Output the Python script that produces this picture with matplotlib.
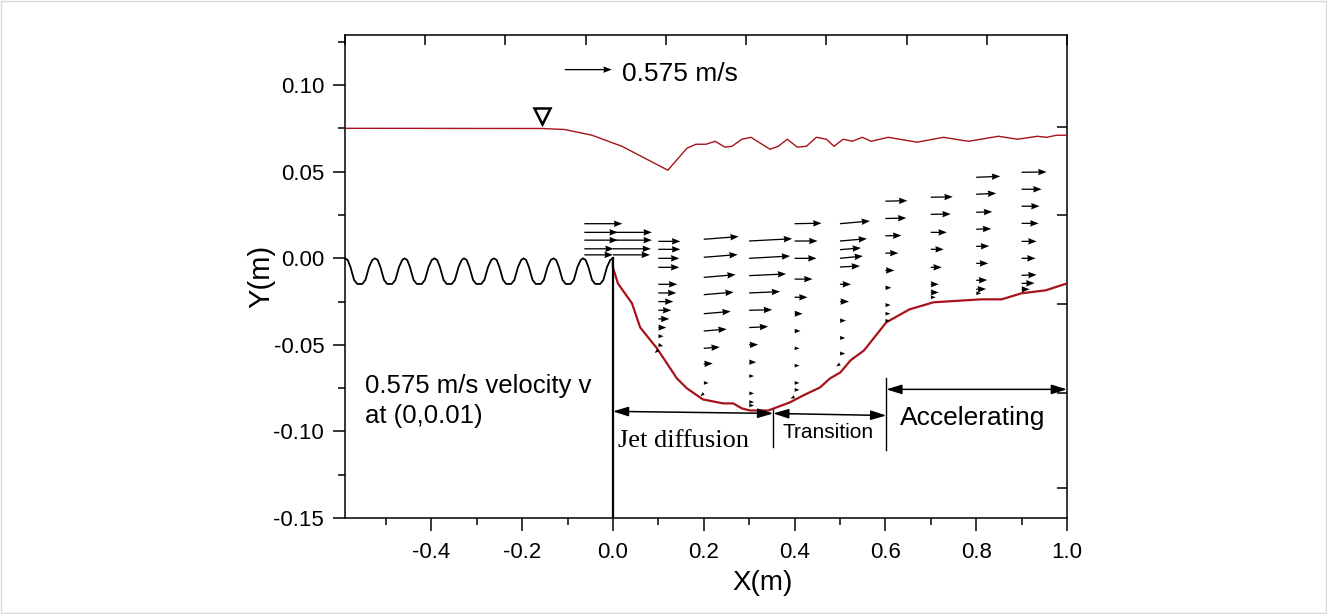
import numpy as np
import matplotlib
matplotlib.use("Agg")
import matplotlib.pyplot as plt
from matplotlib.ticker import MultipleLocator, FormatStrFormatter, FixedLocator
from matplotlib.patches import Rectangle

plt.rcParams['font.family'] = ['Liberation Sans', 'DejaVu Sans']
plt.rcParams['axes.unicode_minus'] = False

# ---------------- data ----------------
# free water surface
surf_x = [-0.590, -0.157, -0.106, -0.046, 0.020, 0.121, 0.163, 0.183, 0.205, 0.225, 0.247,
          0.262, 0.284, 0.304, 0.346, 0.364, 0.384, 0.406, 0.426, 0.448, 0.470, 0.487,
          0.507, 0.527, 0.549, 0.569, 0.606, 0.670, 0.728, 0.783, 0.849, 0.891, 0.935,
          0.955, 0.977, 1.000]
surf_y = [0.0751, 0.0750, 0.0744, 0.0711, 0.0647, 0.0509, 0.0636, 0.0659, 0.0659, 0.0676, 0.0642,
          0.0647, 0.0688, 0.0699, 0.0630, 0.0647, 0.0688, 0.0642, 0.0647, 0.0699, 0.0688, 0.0647,
          0.0688, 0.0676, 0.0699, 0.0676, 0.0699, 0.0671, 0.0699, 0.0676, 0.0705, 0.0688, 0.0705,
          0.0699, 0.0711, 0.0711]

# scour hole bed downstream of the dunes
bed_x = [0.000, 0.000, 0.011, 0.042, 0.060, 0.097, 0.141, 0.163, 0.198, 0.243, 0.265, 0.284,
         0.302, 0.342, 0.390, 0.419, 0.456, 0.478, 0.501, 0.523, 0.553, 0.602, 0.653, 0.706,
         0.811, 0.856, 0.900, 0.953, 1.000]
bed_y = [0.0000, -0.0052, -0.0145, -0.0260, -0.0399, -0.0520, -0.0694, -0.0751, -0.0815, -0.0838,
         -0.0838, -0.0867, -0.0879, -0.0879, -0.0832, -0.0792, -0.0746, -0.0694, -0.0659, -0.0590,
         -0.0532, -0.0370, -0.0295, -0.0254, -0.0237, -0.0237, -0.0202, -0.0185, -0.0145]

# wavy (dune) bed upstream
dune_x = [-0.590, -0.584, -0.578, -0.570, -0.563, -0.552, -0.545, -0.537, -0.530,
          -0.524, -0.518, -0.512, -0.504, -0.497, -0.486, -0.479, -0.471, -0.464,
          -0.459, -0.453, -0.447, -0.439, -0.432, -0.421, -0.414, -0.406, -0.399,
          -0.393, -0.387, -0.381, -0.373, -0.366, -0.355, -0.348, -0.340, -0.333,
          -0.328, -0.322, -0.316, -0.308, -0.301, -0.290, -0.283, -0.275, -0.268,
          -0.262, -0.256, -0.250, -0.242, -0.235, -0.224, -0.217, -0.209, -0.202,
          -0.197, -0.191, -0.185, -0.177, -0.170, -0.159, -0.152, -0.144, -0.137,
          -0.131, -0.125, -0.119, -0.111, -0.104, -0.093, -0.086, -0.078, -0.071,
          -0.066, -0.060, -0.054, -0.046, -0.039, -0.028, -0.021, -0.013, -0.006,
          0.000]
dune_y = [0.0, -0.001, -0.005, -0.0125, -0.0148, -0.0148, -0.0125, -0.005, -0.001,
          0.0, -0.001, -0.005, -0.0125, -0.0148, -0.0148, -0.0125, -0.005, -0.001,
          0.0, -0.001, -0.005, -0.0125, -0.0148, -0.0148, -0.0125, -0.005, -0.001,
          0.0, -0.001, -0.005, -0.0125, -0.0148, -0.0148, -0.0125, -0.005, -0.001,
          0.0, -0.001, -0.005, -0.0125, -0.0148, -0.0148, -0.0125, -0.005, -0.001,
          0.0, -0.001, -0.005, -0.0125, -0.0148, -0.0148, -0.0125, -0.005, -0.001,
          0.0, -0.001, -0.005, -0.0125, -0.0148, -0.0148, -0.0125, -0.005, -0.001,
          0.0, -0.001, -0.005, -0.0125, -0.0148, -0.0148, -0.0125, -0.005, -0.001,
          0.0, -0.001, -0.005, -0.0125, -0.0148, -0.0148, -0.0125, -0.005, -0.001,
          0.0]

# velocity vectors (m/s), one list per measuring column
col_x = [-0.063, 0.0, 0.1, 0.2, 0.3, 0.4, 0.5, 0.6, 0.7, 0.8, 0.9]
col_y = [
    [0.020, 0.015, 0.0105, 0.0055, 0.002],
    [0.015, 0.0105, 0.0055, 0.002],
    [0.0098, 0.0052, 0.0, -0.0052, -0.015, -0.020, -0.025, -0.030, -0.035, -0.040, -0.045, -0.050, -0.053],
    [0.011, 0.0006, -0.011, -0.021, -0.032, -0.042, -0.052, -0.061, -0.072, -0.078],
    [0.010, 0.0, -0.010, -0.020, -0.030, -0.040, -0.050, -0.060, -0.068, -0.078, -0.083, -0.085],
    [0.020, 0.010, 0.0, -0.012, -0.0225, -0.032, -0.042, -0.052, -0.062, -0.072, -0.076, -0.080],
    [0.020, 0.010, 0.005, 0.0, -0.005, -0.015, -0.025, -0.036, -0.046, -0.055, -0.061],
    [0.033, 0.023, 0.013, 0.003, -0.007, -0.017, -0.027, -0.032, -0.036],
    [0.0353, 0.0254, 0.015, 0.0052, -0.0052, -0.015, -0.0197, -0.0225],
    [0.0468, 0.037, 0.0266, 0.0168, 0.0069, -0.0029, -0.0127, -0.0179, -0.0202],
    [0.0497, 0.0399, 0.0301, 0.0202, 0.0098, 0.0, -0.0098, -0.0145, -0.0179],
]
col_u = [
    [0.465, 0.410, 0.410, 0.360, 0.350],
    [0.477, 0.477, 0.465, 0.453],
    [0.269, 0.269, 0.257, 0.257, 0.232, 0.220, 0.184, 0.159, 0.135, 0.098, 0.065, 0.060, -0.045],
    [0.428, 0.416, 0.391, 0.367, 0.330, 0.281, 0.196, 0.110, 0.060, -0.040],
    [0.526, 0.502, 0.453, 0.379, 0.281, 0.232, 0.110, 0.086, 0.060, 0.060, 0.060, 0.060],
    [0.330, 0.281, 0.269, 0.220, 0.159, 0.098, 0.073, 0.060, 0.060, 0.060, 0.060, -0.050],
    [0.367, 0.330, 0.257, 0.281, 0.245, 0.135, 0.110, 0.073, 0.065, 0.065, -0.045],
    [0.269, 0.257, 0.196, 0.159, 0.110, 0.073, 0.065, 0.060, 0.055],
    [0.269, 0.245, 0.196, 0.159, 0.135, 0.098, 0.098, 0.061],
    [0.294, 0.245, 0.196, 0.184, 0.159, 0.147, 0.135, 0.122, 0.061],
    [0.306, 0.245, 0.220, 0.208, 0.184, 0.171, 0.184, 0.159, 0.098],
]
col_v = [
    [0.0, 0.0, 0.0, 0.0, 0.0],
    [0.0, 0.0, 0.0, 0.0],
    [0.0, 0.0, 0.0, 0.0, 0.0, 0.0, 0.0, 0.0, 0.0, 0.0, 0.0, -0.015, -0.035],
    [0.033, 0.033, 0.033, 0.031, 0.028, 0.024, 0.016, 0.006, 0.0, -0.035],
    [0.028, 0.028, 0.021, 0.016, 0.006, 0.012, 0.004, 0.0, 0.0, 0.0, 0.0, 0.0],
    [0.006, 0.0, 0.0, 0.0, 0.0, 0.0, 0.0, 0.0, 0.0, 0.0, 0.0, -0.020],
    [0.033, 0.028, 0.021, 0.028, 0.012, 0.0, 0.0, 0.0, 0.0, 0.0, -0.030],
    [0.006, 0.006, 0.004, 0.0, 0.0, 0.0, 0.0, 0.0, 0.0],
    [0.004, 0.004, 0.0, 0.0, 0.0, 0.0, 0.0, 0.0],
    [0.012, 0.012, 0.006, 0.006, 0.004, 0.0, 0.004, 0.004, 0.0],
    [0.004, 0.0, 0.0, 0.0, 0.0, 0.0, 0.006, 0.004, 0.0],
]

ref_speed = 0.575            # m/s, reference vector
ref_pos = (-0.106, 0.109)

zone_edges = [0.0, 0.353, 0.602, 1.0]
zone_names = ["Jet diffusion", "Transition", "Accelerating"]

x_ticks = [-0.4, -0.2, 0.0, 0.2, 0.4, 0.6, 0.8, 1.0]
y_ticks = [-0.15, -0.10, -0.05, 0.00, 0.05, 0.10]

# ---------------- figure ----------------
W, H, DPI = 1327, 614, 100
fig = plt.figure(figsize=(W / DPI, H / DPI), dpi=DPI)
ax = fig.add_axes([345 / W, 1 - 518 / H, 722 / W, 483 / H])
ax.set_xlim(-0.59, 1.0)
ax.set_ylim(-0.15, 0.129)

red = '#A8121A'
ax.plot(surf_x, surf_y, color=red, lw=1.0, zorder=3)
ax.plot(bed_x, bed_y, color=red, lw=1.6, zorder=3, solid_joinstyle='round')
ax.plot(dune_x, dune_y, color='black', lw=1.3, zorder=3, solid_joinstyle='round')
# vertical reference line at x = 0
ax.plot([0.0, 0.0], [0.0, -0.15], color='black', lw=1.6, zorder=3)

# water level symbol
ax.plot([-0.157], [0.082], marker='v', ms=12, mfc='white', mec='black', mew=1.8,
        linestyle='none', zorder=4)

# velocity vectors
X = np.concatenate([[cx] * len(ys) for cx, ys in zip(col_x, col_y)])
Y = np.concatenate(col_y)
U = np.concatenate(col_u)
V = np.concatenate(col_v)
scale = ref_speed / 47.0   # m/s per pixel
qkw = dict(angles='uv', scale_units='dots', scale=scale, units='dots', width=1.3,
           headwidth=5.0, headlength=6.5, headaxislength=6.0, minlength=0.5,
           color='black', zorder=5)
ax.quiver(X, Y, U, V, **qkw)
ax.quiver([ref_pos[0]], [ref_pos[1]], [ref_speed], [0.0], **qkw)
ax.text(0.020, 0.1025, "0.575 m/s", fontsize=19, ha='left', va='baseline')

# annotation text
ax.text(-0.545, -0.078, "0.575 m/s velocity v", fontsize=18.5, ha='left', va='baseline')
ax.text(-0.545, -0.0954, "at (0,0.01)", fontsize=18.5, ha='left', va='baseline')

# zone dimension arrows
astyle = dict(arrowstyle='<|-|>,head_length=0.55,head_width=0.17', color='black',
              lw=1.1, mutation_scale=17, shrinkA=0, shrinkB=0)
ax.annotate('', xy=(zone_edges[1], -0.0896), xytext=(zone_edges[0], -0.0884), arrowprops=astyle)
ax.annotate('', xy=(zone_edges[2], -0.0908), xytext=(zone_edges[1], -0.0896), arrowprops=astyle)
ax.annotate('', xy=(zone_edges[3], -0.0757), xytext=(zone_edges[2], -0.0757), arrowprops=astyle)
ax.plot([zone_edges[1]] * 2, [-0.0873, -0.1092], color='black', lw=1.0)
ax.plot([zone_edges[2]] * 2, [-0.0694, -0.1110], color='black', lw=1.0)

ax.text(0.011, -0.1087, zone_names[0], fontsize=19, family='Liberation Serif',
        ha='left', va='baseline')
ax.text(0.373, -0.1040, zone_names[1], fontsize=15, ha='left', va='baseline')
ax.text(0.633, -0.0965, zone_names[2], fontsize=19, ha='left', va='baseline')

# axes styling
for s in ax.spines.values():
    s.set_linewidth(1.1)
ax.xaxis.set_major_locator(FixedLocator(x_ticks))
ax.xaxis.set_minor_locator(MultipleLocator(0.1))
ax.yaxis.set_major_locator(FixedLocator(y_ticks))
ax.yaxis.set_minor_locator(MultipleLocator(0.025))
ax.xaxis.set_major_formatter(FormatStrFormatter('%.1f'))
ax.yaxis.set_major_formatter(FormatStrFormatter('%.2f'))
ax.tick_params(which='major', direction='out', length=9, width=1.1, labelsize=16,
               top=False, right=False, pad=6)
ax.tick_params(which='minor', direction='out', length=5, width=1.1, top=False, right=False)
ax.tick_params(axis='x', which='major', pad=8)
ax.set_xlabel("X(m)", fontsize=20)
ax.set_ylabel("Y(m)", fontsize=21)
ax.xaxis.set_label_coords((763 - 345) / 722, -0.108)
ax.yaxis.set_label_coords(-0.097, 0.50)

# top and right layer ticks (inward, unlabeled)
axt = ax.twiny()
axt.set_xlim(0, 9)
axt.xaxis.set_major_locator(FixedLocator(list(range(10))))
axt.tick_params(axis='x', direction='in', length=7, width=1.1, labeltop=False, top=True)
axr = ax.twinx()
axr.set_ylim(0, 1)
axr.yaxis.set_major_locator(FixedLocator([0.0615, 0.2585, 0.4425, 0.6265, 0.8105]))
axr.tick_params(axis='y', direction='in', length=7, width=1.1, labelright=False, right=True)
for a in (axt, axr):
    for s in a.spines.values():
        s.set_visible(False)

# light outer frame
fig.patches.append(Rectangle((0.0005, 0.001), 0.999, 0.998, transform=fig.transFigure,
                             fill=False, edgecolor='#d9d9d9', lw=1.0))

fig.savefig("out.png", dpi=DPI)
